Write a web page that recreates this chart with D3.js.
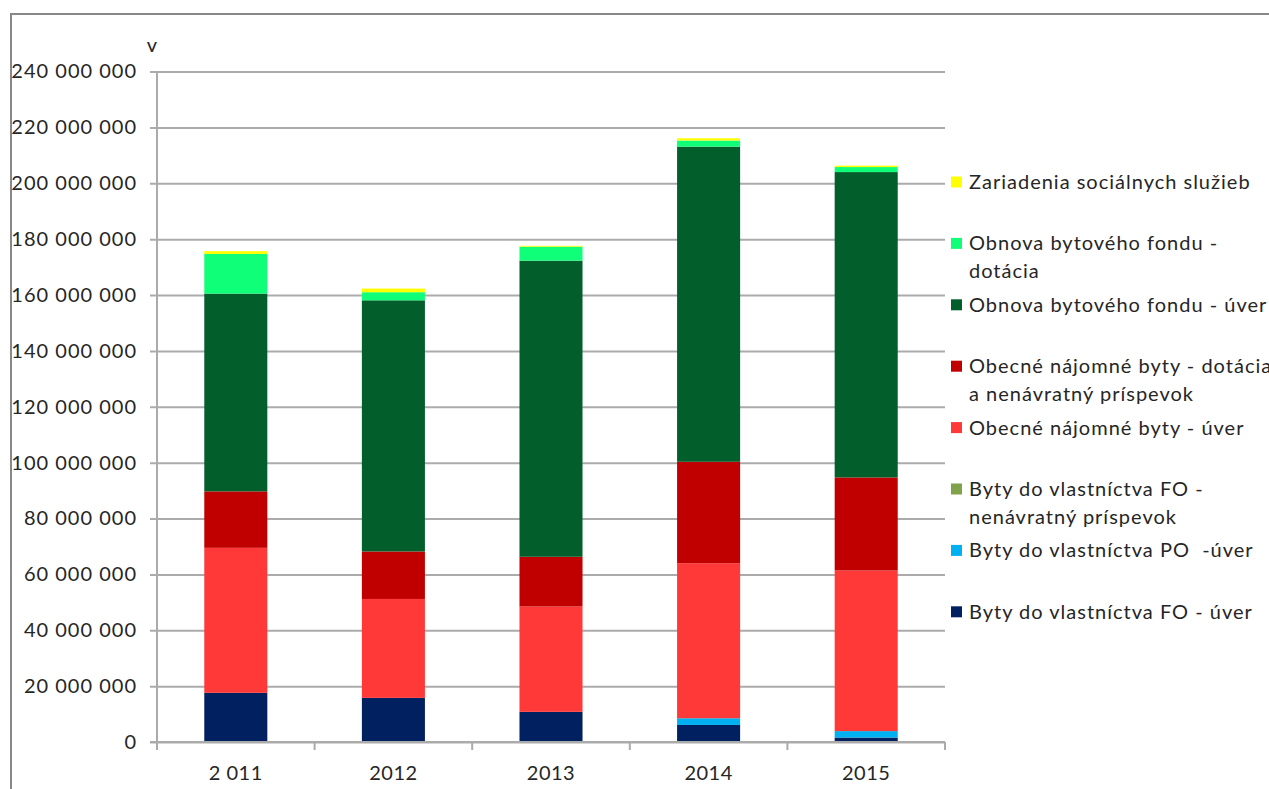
<!DOCTYPE html>
<html>
<head>
<meta charset="utf-8">
<script src="https://cdn.jsdelivr.net/npm/d3@7"></script>
<style>
  body { margin: 0; background: #fff; }
  svg text { font-family: Lato, "Open Sans", sans-serif; fill: #262626; }
</style>
</head>
<body>
<svg id="chart" width="1269" height="789"></svg>
<script>
// categories (x axis labels)
var years = ["2 011", "2012", "2013", "2014", "2015"];

// series, bottom of stack first (values in EUR)
var foUver       = [17600000, 15800000, 10800000, 6100000, 1600000];
var poUver       = [0, 0, 0, 2400000, 2300000];
var foNenavratny = [0, 0, 0, 0, 0];
var onbUver      = [51900000, 35400000, 37700000, 55500000, 57500000];
var onbDotacia   = [20200000, 17000000, 17800000, 36300000, 33300000];
var obnovaUver   = [70800000, 89900000, 106000000, 112800000, 109300000];
var obnovaDot    = [14200000, 2900000, 5000000, 2200000, 1800000];
var zariadenia   = [1000000, 1300000, 300000, 800000, 500000];

var seriesNames = [
    ["Byty do vlastníctva FO - úver"],
    ["Byty do vlastníctva PO  -úver"],
    ["Byty do vlastníctva FO -", "nenávratný príspevok"],
    ["Obecné nájomné byty - úver"],
    ["Obecné nájomné byty - dotácia", "a nenávratný príspevok"],
    ["Obnova bytového fondu - úver"],
    ["Obnova bytového fondu -", "dotácia"],
    ["Zariadenia sociálnych služieb"]
];
var seriesColors = ["#002060", "#00B0F0", "#7FA24A", "#FF3838", "#C00000", "#025F2B", "#10FF78", "#FFFF00"];

var yTicks = [0, 20e6, 40e6, 60e6, 80e6, 100e6, 120e6, 140e6, 160e6, 180e6, 200e6, 220e6, 240e6];

(function () {
    var svg = d3.select("#chart");
    var allSeries = [foUver, poUver, foNenavratny, onbUver, onbDotacia, obnovaUver, obnovaDot, zariadenia];

    // build rows for d3.stack
    var rows = years.map(function (y, i) {
        var r = { year: y };
        allSeries.forEach(function (s, k) { r["s" + k] = s[i]; });
        return r;
    });
    var keys = allSeries.map(function (s, k) { return "s" + k; });
    var stacked = d3.stack().keys(keys)(rows);

    var left = 157, right = 945, top = 71.5, bottom = 742;

    var x = d3.scaleBand().domain(years).range([left, right])
        .paddingInner(0.6).paddingOuter(0.3);
    var y = d3.scaleLinear().domain([0, 240e6]).range([bottom, top]);

    var fmt = d3.formatLocale({ decimal: ",", thousands: " ", grouping: [3], currency: ["", ""] }).format(",d");

    // outer frame
    svg.append("rect")
        .attr("x", 11).attr("y", 14)
        .attr("width", 1300).attr("height", 800)
        .attr("fill", "none").attr("stroke", "#888").attr("stroke-width", 2);

    // gridlines + y labels
    var yAxis = d3.axisLeft(y).tickValues(yTicks).tickFormat(fmt)
        .tickSize(-(right - left + 7)).tickPadding(13);
    var gy = svg.append("g")
        .attr("transform", "translate(" + (left - 7) + ",0)")
        .call(yAxis);
    gy.select(".domain").remove();
    gy.selectAll(".tick line").attr("stroke", "#ABABAB").attr("stroke-width", 2);
    gy.selectAll(".tick text")
        .attr("font-size", 20)
        .attr("letter-spacing", 1)
        .attr("fill", "#262626");

    // y axis line
    svg.append("line")
        .attr("x1", left).attr("x2", left)
        .attr("y1", top).attr("y2", bottom + 8)
        .attr("stroke", "#ABABAB").attr("stroke-width", 2);

    // bars
    svg.append("g").selectAll("g")
        .data(stacked)
        .join("g")
        .attr("fill", function (d, k) { return seriesColors[k]; })
        .selectAll("rect")
        .data(function (d) { return d; })
        .join("rect")
        .attr("x", function (d) { return x(d.data.year); })
        .attr("width", x.bandwidth())
        .attr("y", function (d) { return y(d[1]); })
        .attr("height", function (d) { return y(d[0]) - y(d[1]); });

    // x axis
    svg.append("line")
        .attr("x1", left - 7).attr("x2", right)
        .attr("y1", bottom).attr("y2", bottom)
        .attr("stroke", "#ABABAB").attr("stroke-width", 2);
    var step = x.step();
    var bounds = d3.range(years.length + 1).map(function (i) { return left + i * step; });
    svg.append("g").selectAll("line")
        .data(bounds)
        .join("line")
        .attr("x1", function (d) { return d; }).attr("x2", function (d) { return d; })
        .attr("y1", bottom).attr("y2", bottom + 8)
        .attr("stroke", "#ABABAB").attr("stroke-width", 2);
    svg.append("g").selectAll("text")
        .data(years)
        .join("text")
        .attr("x", function (d) { return x(d) + x.bandwidth() / 2; })
        .attr("y", 780)
        .attr("text-anchor", "middle")
        .attr("font-size", 20)
        .attr("letter-spacing", 0.5)
        .text(function (d) { return d; });

    // unit label
    svg.append("text")
        .attr("x", 152).attr("y", 52)
        .attr("text-anchor", "middle")
        .attr("font-size", 20)
        .text("v");

    // legend (top series first)
    var order = d3.range(seriesNames.length).reverse();
    var lg = svg.append("g").selectAll("g")
        .data(order)
        .join("g")
        .attr("transform", function (k, i) { return "translate(951," + (182 + i * 61.4) + ")"; });
    lg.append("rect")
        .attr("x", 0).attr("y", -5.5)
        .attr("width", 11).attr("height", 11)
        .attr("fill", function (k) { return seriesColors[k]; });
    lg.append("text")
        .attr("x", 18)
        .attr("font-size", 20)
        .attr("letter-spacing", 1)
        .style("white-space", "pre")
        .selectAll("tspan")
        .data(function (k) { return seriesNames[k]; })
        .join("tspan")
        .attr("x", 18)
        .attr("y", function (d, j) { return j * 28; })
        .attr("dy", "0.35em")
        .text(function (d) { return d; });
})();
</script>
</body>
</html>
